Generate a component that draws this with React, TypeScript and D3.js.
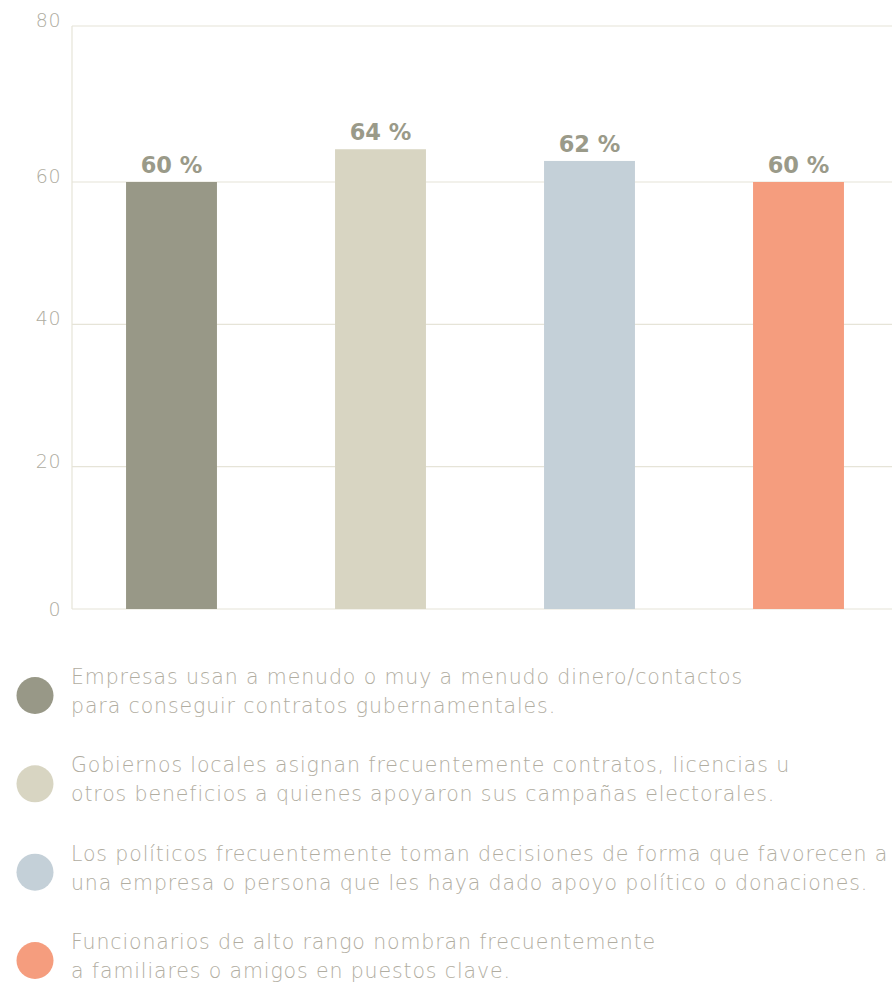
import React from "react";
import * as d3 from "d3";

const categories = ["Empresas", "Gobiernos", "Políticos", "Funcionarios"];
const values = [60, 64.2, 62.7, 60];
const valueLabels = ["60 %", "64 %", "62 %", "60 %"];
const colors = ["#989887", "#d8d5c2", "#c4d0d8", "#f59d7e"];
const yTicks = [0, 20, 40, 60, 80];
const legendLines = [
  ["Empresas usan a menudo o muy a menudo dinero/contactos", "para conseguir contratos gubernamentales."],
  ["Gobiernos locales asignan frecuentemente contratos, licencias u", "otros beneficios a quienes apoyaron sus campañas electorales."],
  ["Los políticos frecuentemente toman decisiones de forma que favorecen a", "una empresa o persona que les haya dado apoyo político o donaciones."],
  ["Funcionarios de alto rango nombran frecuentemente", "a familiares o amigos en puestos clave."],
];

const W = 892;
const H = 983;

export default function App() {
  const x = d3
    .scaleBand<string>()
    .domain(categories)
    .range([67, 903])
    .paddingInner(0.565)
    .paddingOuter(0.2825);
  const y = d3.scaleLinear().domain([0, 60, 80]).range([609, 182, 26]);
  const legendY = d3.scaleLinear().domain([0, 3]).range([695.5, 960.5]);

  const lightFont = "'DejaVu Sans', sans-serif";
  const gridColor = "#e6e4d8";

  return (
    <svg
      width={W}
      height={H}
      style={{ position: "absolute", left: 0, top: 0, background: "#fff" }}
    >
      {yTicks.map((t) => (
        <line
          key={"g" + t}
          x1={72}
          x2={W}
          y1={y(t)}
          y2={y(t)}
          stroke={gridColor}
          strokeWidth={1.2}
        />
      ))}
      <line x1={72} x2={72} y1={y(80)} y2={y(0)} stroke={gridColor} strokeWidth={1.2} />
      {yTicks.map((t) => (
        <text
          key={"t" + t}
          x={61}
          y={y(t) + (t === 0 ? 7 : 1)}
          textAnchor="end"
          fontFamily={lightFont}
          fontWeight={200}
          fontSize={19}
          letterSpacing={0.5}
          fill="#aeac9f"
        >
          {t}
        </text>
      ))}
      {categories.map((c, i) => (
        <rect
          key={"b" + c}
          x={x(c)}
          y={y(values[i])}
          width={x.bandwidth()}
          height={y(0) - y(values[i])}
          fill={colors[i]}
        />
      ))}
      {categories.map((c, i) => (
        <text
          key={"v" + c}
          x={(x(c) as number) + x.bandwidth() / 2}
          y={y(values[i]) - 9}
          textAnchor="middle"
          fontFamily="'DejaVu Sans', sans-serif"
          fontWeight="bold"
          fontSize={22.5}
          fill="#9a9a89"
        >
          {valueLabels[i]}
        </text>
      ))}
      {legendLines.map((lines, i) => (
        <g key={"l" + i}>
          <circle cx={35} cy={legendY(i)} r={18.5} fill={colors[i]} />
          {lines.map((ln, j) => (
            <text
              key={j}
              x={71}
              y={legendY(i) + (j === 0 ? -11.5 : 17.5)}
              fontFamily={lightFont}
              fontWeight={200}
              fontSize={20.5}
              letterSpacing={0.88}
              fill="#b1ada1"
            >
              {ln}
            </text>
          ))}
        </g>
      ))}
    </svg>
  );
}
